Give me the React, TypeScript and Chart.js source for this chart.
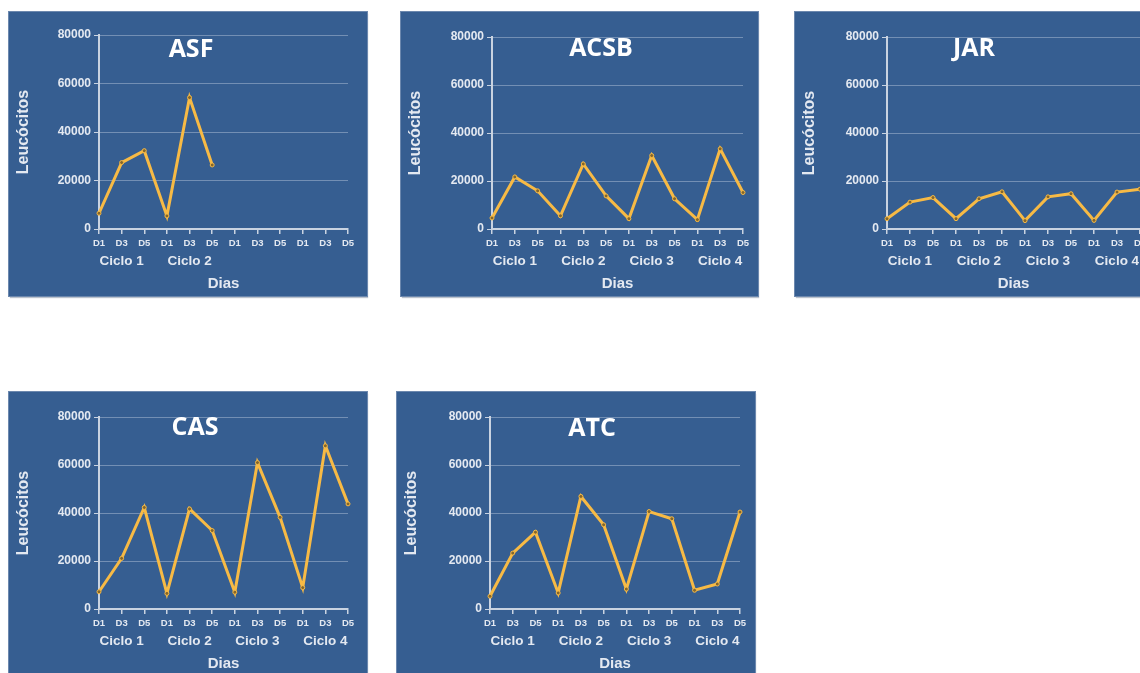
import React, { useEffect, useRef } from "react";
import { Chart, registerables } from "chart.js";

Chart.register(...registerables);

const days = ["D1", "D3", "D5", "D1", "D3", "D5", "D1", "D3", "D5", "D1", "D3", "D5"];
const cyclesTwo = ["", "Ciclo 1", "", "", "Ciclo 2", "", "", "", "", "", "", ""];
const cyclesFour = ["", "Ciclo 1", "", "", "Ciclo 2", "", "", "Ciclo 3", "", "", "Ciclo 4", ""];
const yTickValues = [0, 20000, 40000, 60000, 80000];

const asf = [6500, 27400, 32300, 5400, 54200, 26400, null, null, null, null, null, null];
const acsb = [4600, 21700, 15900, 5500, 27100, 13800, 4300, 30600, 12600, 3900, 33400, 15200];
const jar = [4300, 11200, 13100, 4300, 12600, 15500, 3500, 13400, 14700, 3600, 15400, 16600];
const cas = [7200, 21100, 42300, 6500, 41700, 32700, 7000, 61000, 38200, 8900, 68000, 43800];
const atc = [5300, 23300, 32000, 6700, 46900, 35100, 8300, 40600, 37600, 7800, 10400, 40400];

const FONT = "'Liberation Sans', Arial, sans-serif";
const LIGHT = "#E4E9F1";
const BG = "#365E91";

type PanelProps = {
  left: number;
  top: number;
  width: number;
  height: number;
  axisLeft: number;
  plotRight: number;
  plotTop: number;
  plotBottom: number;
  title: string;
  titleX: number;
  titleTop: number;
  values: (number | null)[];
  cycles: string[];
};

function Panel(p: PanelProps) {
  const ref = useRef<HTMLCanvasElement | null>(null);
  useEffect(() => {
    if (!ref.current) return;
    const x1H = 20;
    const x2H = 45;
    const chart = new Chart(ref.current, {
      type: "line",
      data: {
        labels: days,
        datasets: [
          {
            data: p.values,
            borderColor: "#F7BA45",
            borderWidth: 3,
            tension: 0,
            spanGaps: false,
            pointRadius: 2,
            pointBackgroundColor: "#85672C",
            pointBorderColor: "#F7BA45",
            pointBorderWidth: 1,
            xAxisID: "x",
            yAxisID: "y",
          },
        ],
      },
      options: {
        responsive: false,
        animation: false,
        devicePixelRatio: 1,
        layout: {
          padding: {
            left: 0,
            top: p.plotTop,
            right: p.width - p.plotRight,
            bottom: p.height - p.plotBottom - x1H - x2H,
          },
        },
        plugins: { legend: { display: false }, tooltip: { enabled: false }, title: { display: false } },
        scales: {
          y: {
            min: 0,
            max: 80000,
            afterBuildTicks: (s: any) => {
              s.ticks = yTickValues.map((v) => ({ value: v }));
            },
            afterFit: (s: any) => {
              s.width = p.axisLeft;
            },
            ticks: {
              color: LIGHT,
              font: { family: FONT, size: 12, weight: "bold" },
              padding: 3,
              callback: (v: any) => String(v),
            },
            grid: {
              color: "rgba(190,205,225,0.45)",
              lineWidth: 1,
              tickLength: 5,
              tickColor: "#C9D3E1",
            },
            border: { color: "#C9D3E1", width: 2 },
            title: {
              display: true,
              text: "Leucócitos",
              color: LIGHT,
              font: { family: FONT, size: 16, weight: "bold" },
              padding: { top: 5, bottom: 0 },
            },
          },
          x: {
            type: "category",
            position: "bottom",
            offset: false,
            weight: 0,
            afterFit: (s: any) => {
              s.height = x1H;
            },
            grid: {
              drawOnChartArea: false,
              drawTicks: true,
              tickLength: 5,
              tickColor: "#C9D3E1",
              lineWidth: 1.5,
            },
            border: { color: "#C9D3E1", width: 2 },
            ticks: {
              color: LIGHT,
              font: { family: FONT, size: 9.5, weight: "bold" },
              padding: 4,
              autoSkip: false,
              maxRotation: 0,
              minRotation: 0,
            },
          },
          x2: {
            type: "category",
            position: "bottom",
            labels: p.cycles,
            offset: false,
            weight: 1,
            afterFit: (s: any) => {
              s.height = x2H;
            },
            grid: { display: false, drawTicks: false },
            border: { display: false },
            ticks: {
              color: LIGHT,
              font: { family: FONT, size: 13.5, weight: "bold" },
              padding: 4,
              autoSkip: false,
              maxRotation: 0,
              minRotation: 0,
            },
            title: {
              display: true,
              text: "Dias",
              color: LIGHT,
              font: { family: FONT, size: 15, weight: "bold" },
              padding: { top: 0, bottom: 1 },
            },
          },
        },
      } as any,
    });
    return () => chart.destroy();
  }, []);

  return (
    <>
      <div
        style={{
          position: "absolute",
          left: p.left,
          top: p.top,
          width: p.width,
          height: p.height,
          background: BG,
          boxSizing: "border-box",
          outline: "1px solid #6C88AE",
          boxShadow: "1px 2px 1px rgba(60,80,110,0.35)",
        }}
      >
        <canvas ref={ref} width={p.width} height={p.height} style={{ display: "block" }} />
      </div>
      <div
        style={{
          position: "absolute",
          left: p.titleX,
          top: p.titleTop,
          transform: "translateX(-50%)",
          fontFamily: "'Open Sans', sans-serif",
          fontWeight: 700,
          fontSize: 25,
          lineHeight: "25px",
          color: "#FFFFFF",
          whiteSpace: "nowrap",
        }}
      >
        {p.title}
      </div>
    </>
  );
}

export default function App() {
  return (
    <div
      style={{
        position: "absolute",
        left: 0,
        top: 0,
        width: 1140,
        height: 673,
        overflow: "hidden",
        background: "#FFFFFF",
      }}
    >
      <Panel left={9} top={12} width={358} height={284} axisLeft={90} plotRight={339} plotTop={23} plotBottom={217} title="ASF" titleX={191} titleTop={35} values={asf} cycles={cyclesTwo} />
      <Panel left={401} top={12} width={357} height={284} axisLeft={91} plotRight={342} plotTop={25} plotBottom={217} title="ACSB" titleX={601} titleTop={34} values={acsb} cycles={cyclesFour} />
      <Panel left={795} top={12} width={360} height={284} axisLeft={92} plotRight={345} plotTop={25} plotBottom={217} title="JAR" titleX={974} titleTop={34} values={jar} cycles={cyclesFour} />
      <Panel left={9} top={392} width={358} height={290} axisLeft={90} plotRight={339} plotTop={25} plotBottom={217} title="CAS" titleX={195} titleTop={413} values={cas} cycles={cyclesFour} />
      <Panel left={397} top={392} width={358} height={290} axisLeft={93} plotRight={343} plotTop={25} plotBottom={217} title="ATC" titleX={592} titleTop={414} values={atc} cycles={cyclesFour} />
    </div>
  );
}
